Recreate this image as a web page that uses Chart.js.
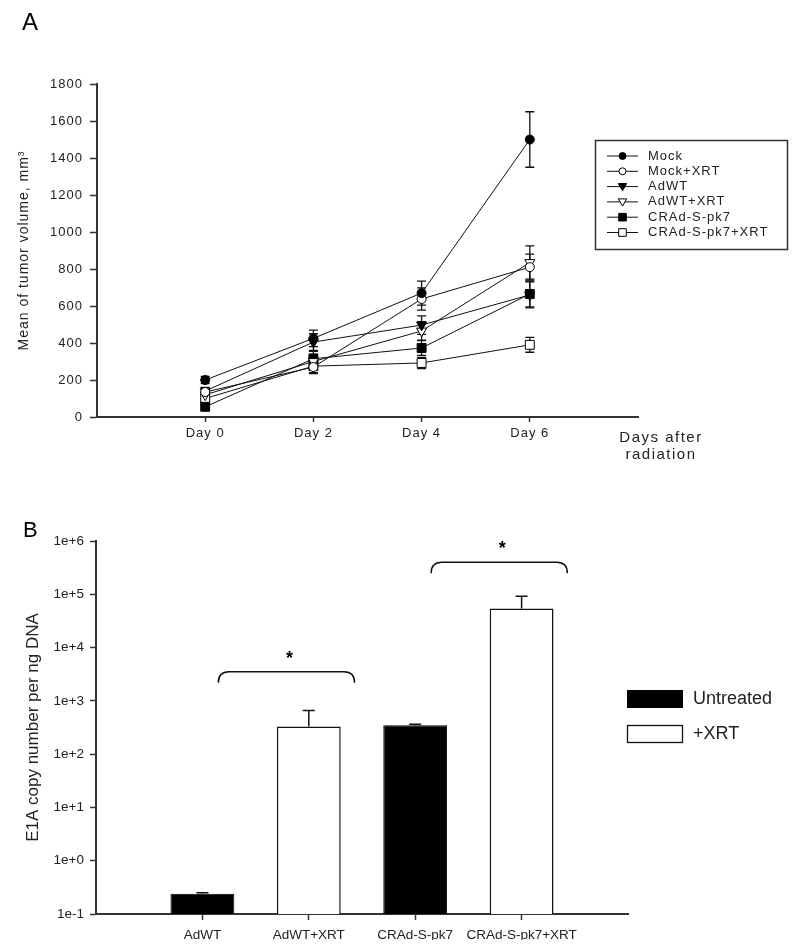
<!DOCTYPE html>
<html>
<head>
<meta charset="utf-8">
<script src="https://cdn.jsdelivr.net/npm/chart.js@4.4.1/dist/chart.umd.min.js"></script>
<style>
  body { margin: 0; background: #fff; width: 800px; height: 950px; position: relative; overflow: hidden; }
  #panelA { position: absolute; left: 0; top: 0; }
  #panelB { position: absolute; left: 0; top: 470px; }
</style>
</head>
<body>
<canvas id="panelA" width="800" height="470"></canvas>
<canvas id="panelB" width="800" height="480"></canvas>
<script>
// Panel A: tumor volume (mean, mm3) by day after radiation
const days = [0, 2, 4, 6];
const groups = ['Mock', 'Mock+XRT', 'AdWT', 'AdWT+XRT', 'CRAd-S-pk7', 'CRAd-S-pk7+XRT'];
const mockVol = [200, 425, 670, 1500];
const mockSem = [20, 45, 65, 150];
const mockXrtVol = [135, 270, 638, 810];
const mockXrtSem = [20, 35, 60, 70];
const adwtVol = [140, 405, 497, 660];
const adwtSem = [20, 45, 50, 70];
const adwtXrtVol = [120, 300, 465, 835];
const adwtXrtSem = [25, 40, 50, 90];
const cradVol = [55, 315, 373, 665];
const cradSem = [15, 40, 40, 70];
const cradXrtVol = [100, 275, 292, 390];
const cradXrtSem = [20, 35, 30, 40];
const volTicks = [0, 200, 400, 600, 800, 1000, 1200, 1400, 1600, 1800];

// Panel B: E1A copy number per ng DNA
const copyGroups = ['AdWT', 'AdWT+XRT', 'CRAd-S-pk7', 'CRAd-S-pk7+XRT'];
const untreatedCopies = [0.24, null, 350, null];
const untreatedSd = [0.01, null, 15, null];
const xrtCopies = [null, 330, null, 54000];
const xrtSd = [null, 330, null, 38000];
const logTickValues = [0.1, 1, 10, 100, 1000, 10000, 100000, 1000000];
const logTickLabels = ['1e-1', '1e+0', '1e+1', '1e+2', '1e+3', '1e+4', '1e+5', '1e+6'];

Chart.defaults.font.family = "'Liberation Sans', Arial, sans-serif";
Chart.defaults.color = '#222';

const ink = '#111';
const axisInk = '#333';

function drawMarker(ctx, style, x, y, r, filled) {
  ctx.beginPath();
  if (style === 'circle') {
    ctx.arc(x, y, r, 0, Math.PI * 2);
  } else if (style === 'rect') {
    ctx.rect(x - r, y - r, r * 2, r * 2);
  } else {
    ctx.moveTo(x - r * 1.1, y - r * 0.8);
    ctx.lineTo(x + r * 1.1, y - r * 0.8);
    ctx.lineTo(x, y + r * 1.1);
    ctx.closePath();
  }
  ctx.fillStyle = filled ? '#000' : '#fff';
  ctx.fill();
  ctx.lineWidth = 1;
  ctx.strokeStyle = '#000';
  ctx.stroke();
}

const series = [
  { vals: mockVol, sem: mockSem, style: 'circle', filled: true, r: 4.5 },
  { vals: mockXrtVol, sem: mockXrtSem, style: 'circle', filled: false, r: 4.5 },
  { vals: adwtVol, sem: adwtSem, style: 'triangle', filled: true, r: 5.8 },
  { vals: adwtXrtVol, sem: adwtXrtSem, style: 'triangle', filled: false, r: 5.8 },
  { vals: cradVol, sem: cradSem, style: 'rect', filled: true, r: 6.3 },
  { vals: cradXrtVol, sem: cradXrtSem, style: 'rect', filled: false, r: 6.3 }
];

const spacedText = {
  id: 'spacedText',
  beforeLayout(chart) { chart.ctx.letterSpacing = '1px'; },
  beforeDraw(chart) { chart.ctx.letterSpacing = '1px'; }
};

const volErrorBars = {
  id: 'volErrorBars',
  beforeDatasetsDraw(chart) {
    const { ctx, scales: { y } } = chart;
    ctx.save();
    ctx.strokeStyle = ink;
    ctx.lineWidth = 1.3;
    chart.data.datasets.forEach((ds, di) => {
      const meta = chart.getDatasetMeta(di);
      meta.data.forEach((pt, i) => {
        const hi = y.getPixelForValue(series[di].vals[i] + series[di].sem[i]);
        const lo = y.getPixelForValue(series[di].vals[i] - series[di].sem[i]);
        ctx.beginPath();
        ctx.moveTo(pt.x, hi); ctx.lineTo(pt.x, lo);
        ctx.moveTo(pt.x - 4.5, hi); ctx.lineTo(pt.x + 4.5, hi);
        ctx.moveTo(pt.x - 4.5, lo); ctx.lineTo(pt.x + 4.5, lo);
        ctx.stroke();
      });
    });
    ctx.restore();
  }
};

const panelALabels = {
  id: 'panelALabels',
  afterDraw(chart) {
    const ctx = chart.ctx;
    ctx.save();
    ctx.fillStyle = '#000';
    ctx.letterSpacing = '0px';
    ctx.font = "24px 'Liberation Sans', Arial, sans-serif";
    ctx.textBaseline = 'alphabetic';
    ctx.textAlign = 'left';
    ctx.fillText('A', 22, 30);

    ctx.fillStyle = '#222';
    ctx.letterSpacing = '1.5px';
    ctx.font = "15px 'Liberation Sans', Arial, sans-serif";
    ctx.textAlign = 'center';
    ctx.textBaseline = 'middle';
    ctx.fillText('Days after', 661, 438);
    ctx.fillText('radiation', 661, 455);

    // legend box
    ctx.letterSpacing = '1px';
    ctx.strokeStyle = axisInk;
    ctx.lineWidth = 1.5;
    ctx.strokeRect(595.5, 140.5, 192, 109);
    ctx.font = "13px 'Liberation Sans', Arial, sans-serif";
    ctx.textAlign = 'left';
    groups.forEach((g, i) => {
      const yy = 156 + i * 15.3;
      ctx.strokeStyle = ink;
      ctx.lineWidth = 1;
      ctx.beginPath();
      ctx.moveTo(607, yy); ctx.lineTo(638, yy);
      ctx.stroke();
      const s = series[i];
      drawMarker(ctx, s.style, 622.5, yy, s.style === 'circle' ? 3.5 : 3.8, s.filled);
      ctx.fillStyle = '#222';
      ctx.fillText(g, 648, yy);
    });
    ctx.restore();
  }
};

new Chart(document.getElementById('panelA'), {
  type: 'line',
  data: {
    datasets: series.map((s, di) => ({
      label: groups[di],
      data: days.map((d, i) => ({ x: d, y: s.vals[i] })),
      borderColor: ink,
      borderWidth: 1,
      pointStyle: s.style,
      pointRadius: s.r,
      pointRotation: s.style === 'triangle' ? 180 : 0,
      pointBackgroundColor: s.filled ? '#000' : '#fff',
      pointBorderColor: '#000',
      pointBorderWidth: 1,
      tension: 0
    }))
  },
  options: {
    responsive: false,
    animation: false,
    devicePixelRatio: 1,
    layout: { padding: { left: 0, right: 162, top: 84, bottom: 23 } },
    plugins: { legend: { display: false }, tooltip: { enabled: false } },
    scales: {
      x: {
        type: 'linear',
        min: -2,
        max: 8,
        afterBuildTicks: s => { s.ticks = days.map(v => ({ value: v })); },
        afterFit: s => { s.height = 30; },
        ticks: { callback: v => 'Day ' + v, font: { size: 13 }, padding: 4, maxRotation: 0 },
        grid: { drawOnChartArea: false, tickLength: 5, color: axisInk, tickWidth: 1.5 },
        border: { color: axisInk, width: 2 }
      },
      y: {
        min: 0,
        max: 1800,
        afterBuildTicks: s => { s.ticks = volTicks.map(v => ({ value: v })); },
        afterFit: s => { s.width = 97; },
        ticks: { font: { size: 13 }, padding: 7, callback: v => String(v) },
        grid: { drawOnChartArea: false, tickLength: 7, color: axisInk, tickWidth: 1.5 },
        border: { color: axisInk, width: 2 },
        title: {
          display: true,
          text: 'Mean of tumor volume, mm³',
          font: { size: 14 },
          color: '#222',
          padding: { top: 16 }
        }
      }
    }
  },
  plugins: [spacedText, volErrorBars, panelALabels]
});

const copyErrorBars = {
  id: 'copyErrorBars',
  afterDatasetsDraw(chart) {
    const { ctx, scales: { y } } = chart;
    const sds = [untreatedSd, xrtSd];
    const means = [untreatedCopies, xrtCopies];
    ctx.save();
    ctx.strokeStyle = ink;
    ctx.lineWidth = 1.5;
    chart.data.datasets.forEach((ds, di) => {
      chart.getDatasetMeta(di).data.forEach((bar, i) => {
        const k = i - 1;
        if (k < 0 || k >= copyGroups.length || means[di][k] == null) return;
        const top = y.getPixelForValue(means[di][k]);
        const hi = y.getPixelForValue(means[di][k] + sds[di][k]);
        ctx.beginPath();
        ctx.moveTo(bar.x, top); ctx.lineTo(bar.x, hi);
        ctx.moveTo(bar.x - 6, hi); ctx.lineTo(bar.x + 6, hi);
        ctx.stroke();
      });
    });
    ctx.restore();
  }
};

const panelBLabels = {
  id: 'panelBLabels',
  afterDraw(chart) {
    const { ctx, scales: { x, y } } = chart;
    ctx.save();
    ctx.fillStyle = '#000';
    ctx.font = "22px 'Liberation Sans', Arial, sans-serif";
    ctx.textAlign = 'left';
    ctx.textBaseline = 'alphabetic';
    ctx.fillText('B', 23, 67);

    // significance brackets
    const step = x.getPixelForValue(2) - x.getPixelForValue(1);
    const brackets = [
      { from: 1, to: 2, level: 3500 },
      { from: 3, to: 4, level: 400000 }
    ];
    ctx.strokeStyle = ink;
    ctx.lineWidth = 1.5;
    brackets.forEach(b => {
      const x0 = x.getPixelForValue(b.from) + step * 0.15;
      const x1 = x.getPixelForValue(b.to) + step * 0.43;
      const yy = y.getPixelForValue(b.level);
      const r = 7;
      ctx.beginPath();
      ctx.moveTo(x0, yy + 11);
      ctx.quadraticCurveTo(x0, yy, x0 + r * 1.5, yy);
      ctx.lineTo(x1 - r * 1.5, yy);
      ctx.quadraticCurveTo(x1, yy, x1, yy + 11);
      ctx.stroke();
      ctx.font = "bold 18px 'Liberation Sans', Arial, sans-serif";
      ctx.textAlign = 'center';
      ctx.textBaseline = 'middle';
      ctx.fillText('*', (x0 + x1) / 2 + 3, yy - 13);
    });

    // legend
    ctx.fillStyle = '#000';
    ctx.fillRect(627, 220, 56, 18);
    ctx.fillStyle = '#fff';
    ctx.fillRect(627, 255, 56, 18);
    ctx.strokeStyle = ink;
    ctx.lineWidth = 1.3;
    ctx.strokeRect(627.5, 255.5, 55, 17);
    ctx.fillStyle = '#222';
    ctx.font = "18px 'Liberation Sans', Arial, sans-serif";
    ctx.textAlign = 'left';
    ctx.textBaseline = 'middle';
    ctx.fillText('Untreated', 693, 229);
    ctx.fillText('+XRT', 693, 264);
    ctx.restore();
  }
};

const padded = arr => [null, ...arr, null];

new Chart(document.getElementById('panelB'), {
  type: 'bar',
  data: {
    labels: ['', ...copyGroups, ''],
    datasets: [
      {
        label: 'Untreated',
        data: padded(untreatedCopies),
        backgroundColor: '#000',
        borderColor: '#000',
        borderWidth: 1
      },
      {
        label: '+XRT',
        data: padded(xrtCopies),
        backgroundColor: '#fff',
        borderColor: ink,
        borderWidth: 1.5
      }
    ]
  },
  options: {
    responsive: false,
    animation: false,
    devicePixelRatio: 1,
    grouped: false,
    barPercentage: 0.6,
    categoryPercentage: 1,
    layout: { padding: { left: 0, right: 172, top: 71, bottom: 10 } },
    plugins: { legend: { display: false }, tooltip: { enabled: false } },
    scales: {
      x: {
        offset: false,
        afterFit: s => { s.height = 26; },
        ticks: { font: { size: 13.5 }, padding: 7, maxRotation: 0, autoSkip: false },
        grid: {
          offset: false,
          drawOnChartArea: false,
          tickLength: 6,
          tickWidth: 1.5,
          color: c => (c.tick && c.tick.label) ? axisInk : 'rgba(0,0,0,0)'
        },
        border: { color: axisInk, width: 2 }
      },
      y: {
        type: 'logarithmic',
        min: 0.1,
        max: 1000000,
        afterBuildTicks: s => { s.ticks = logTickValues.map(v => ({ value: v })); },
        afterFit: s => { s.width = 96; },
        ticks: { font: { size: 13.5 }, padding: 6, callback: (v, i) => logTickLabels[i] },
        grid: { drawOnChartArea: false, tickLength: 6, color: axisInk, tickWidth: 1.5 },
        border: { color: axisInk, width: 2 },
        title: {
          display: true,
          text: 'E1A copy number per ng DNA',
          font: { size: 17 },
          color: '#222',
          padding: { top: 23 }
        }
      }
    }
  },
  plugins: [copyErrorBars, panelBLabels]
});
</script>
</body>
</html>
